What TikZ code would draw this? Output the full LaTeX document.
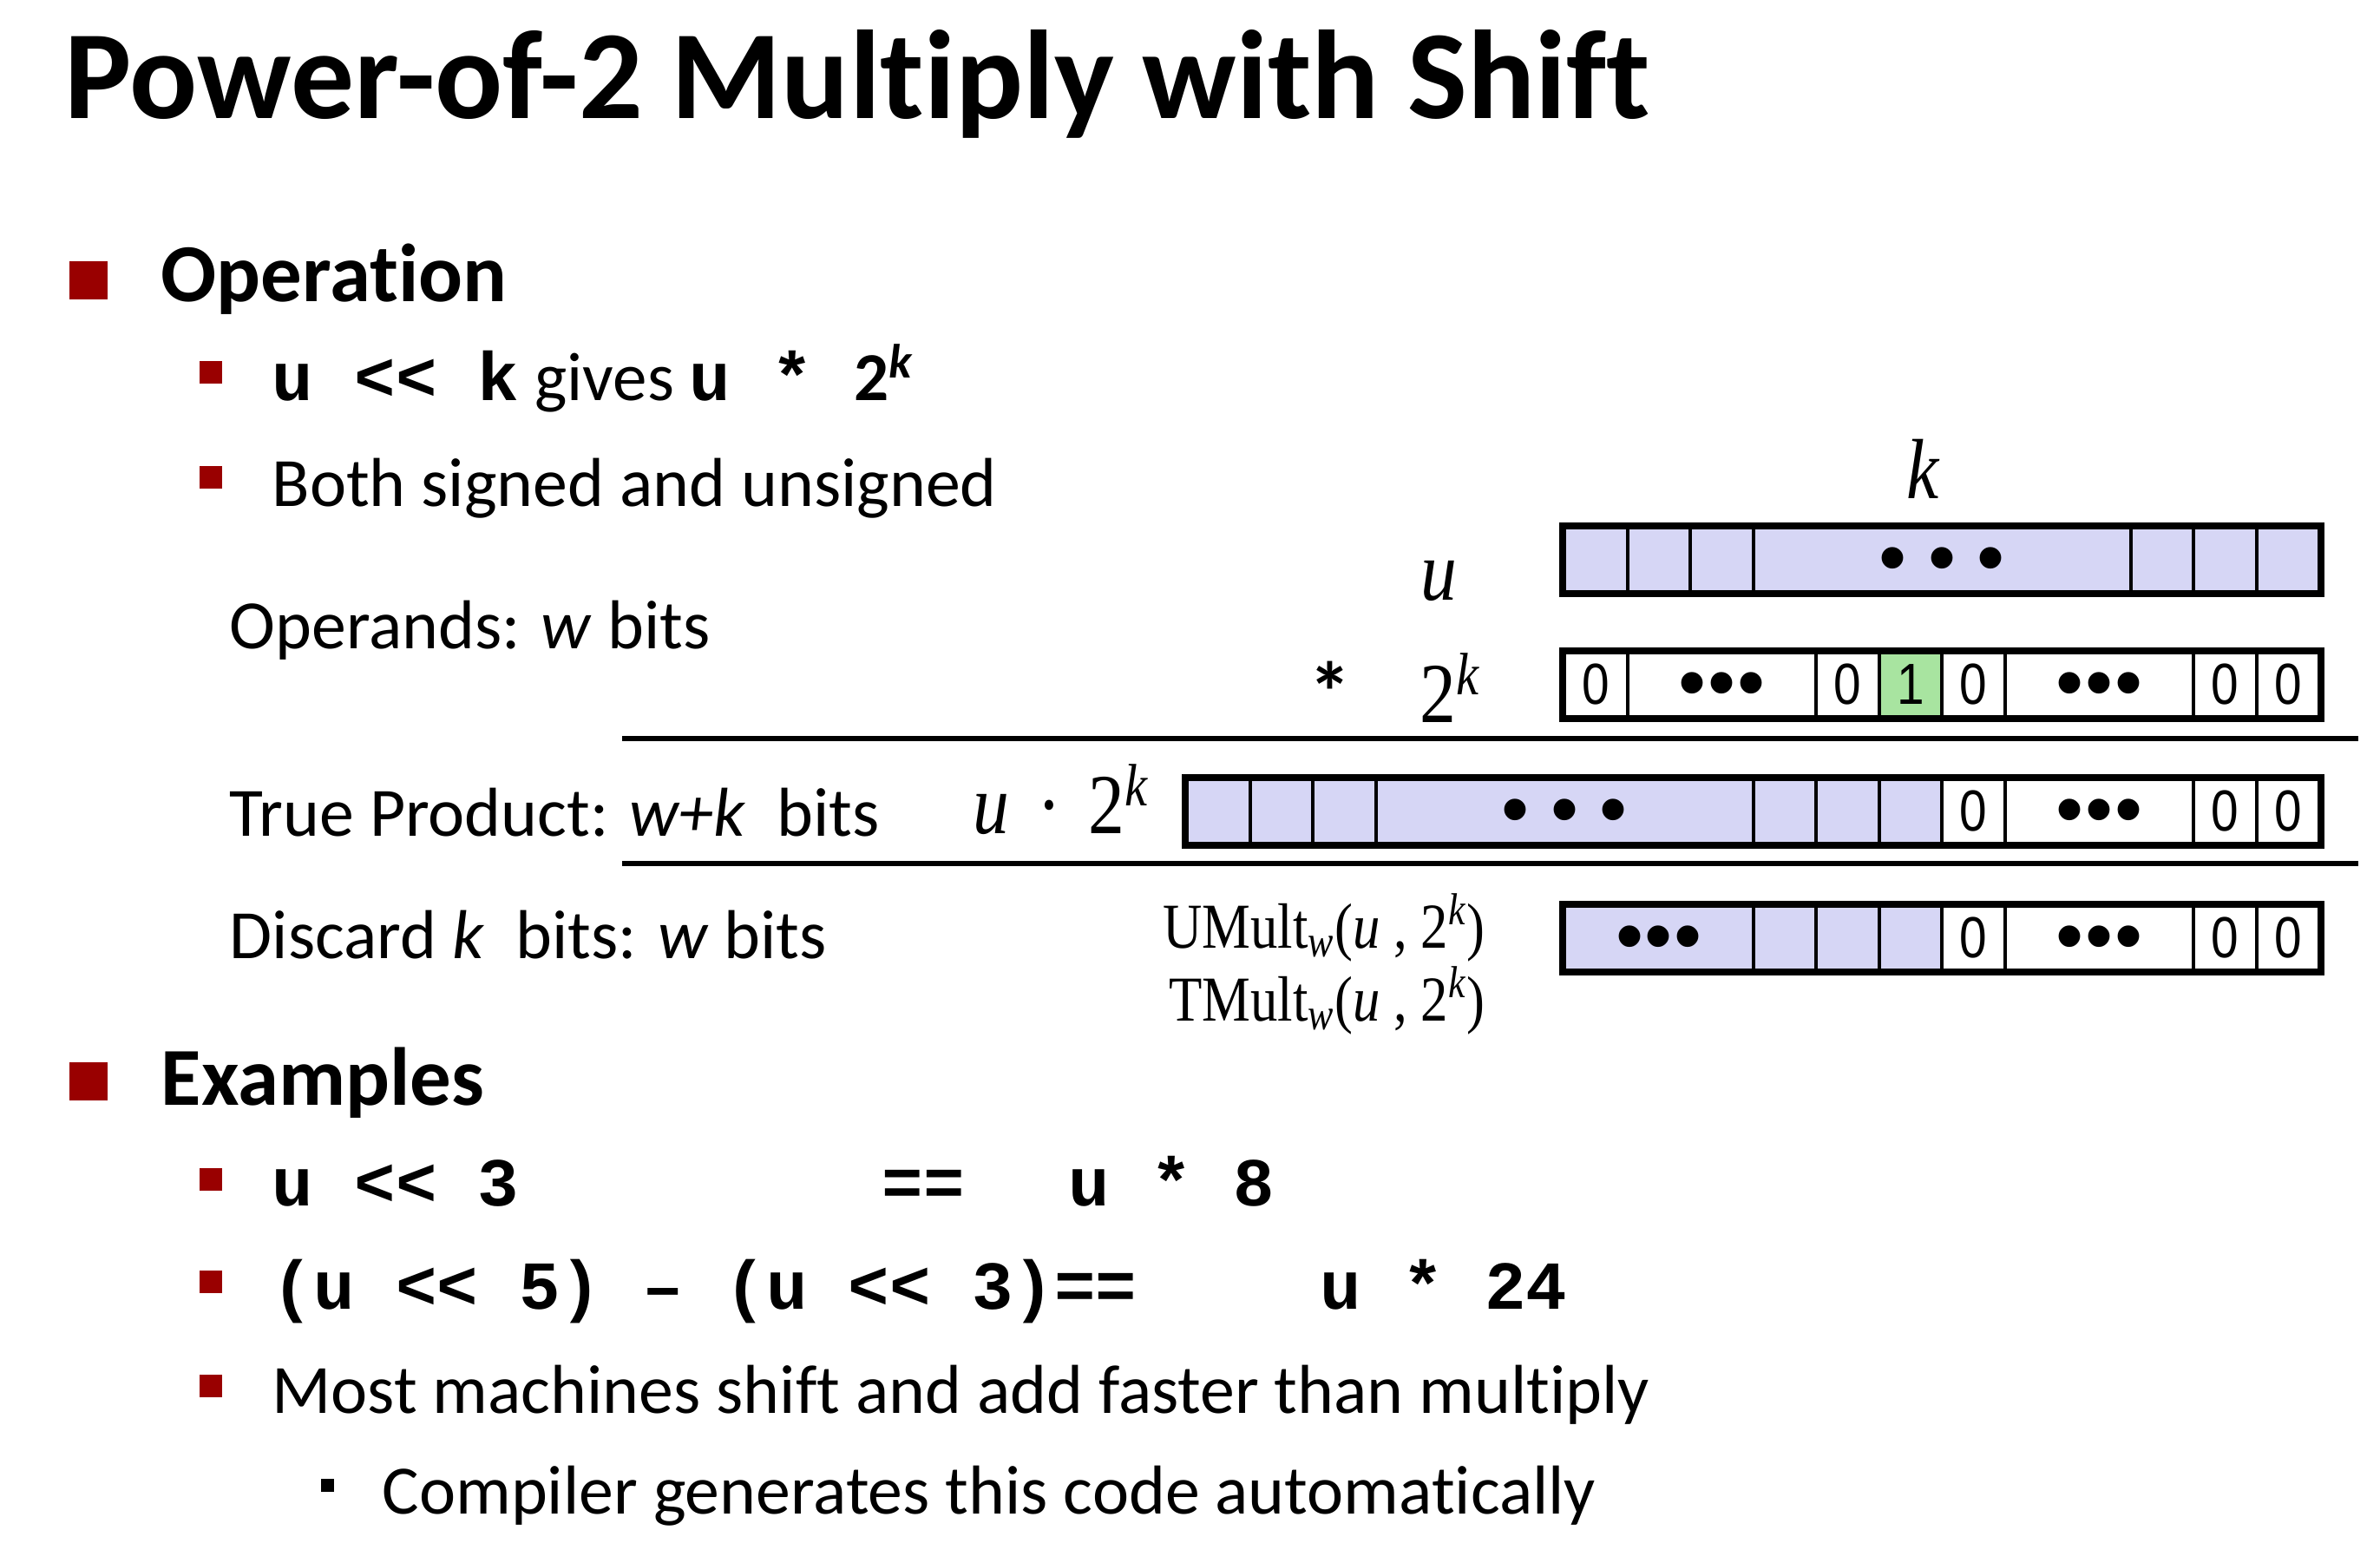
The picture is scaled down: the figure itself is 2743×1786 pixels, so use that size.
\documentclass[tikz,border=0pt]{standalone}
\usepackage{fontspec}
\setmainfont{Carlito}[Ligatures={TeX,NoCommon}]
\setmonofont{Liberation Mono}
\newfontfamily\tnr[FakeStretch=0.85]{Liberation Serif}
\newfontfamily\bitfont[FakeStretch=0.85]{Liberation Sans}
\newfontfamily\dotfont{Liberation Sans}
\definecolor{bulletred}{RGB}{153,0,0}
\definecolor{bitblue}{RGB}{214,214,245}
\definecolor{bitgreen}{RGB}{168,228,160}
\newcommand\tightdots{\raisebox{-2pt}[\height][\depth]{\fontsize{26}{30}\selectfont\dotfont •\kern0.5pt•\kern0.5pt•}}
\newcommand\widedots{\raisebox{-2pt}[\height][\depth]{\fontsize{26}{30}\selectfont\dotfont •\kern7pt•\kern7pt•}}

\tikzset{
	txt/.style={anchor=base west, inner sep=0pt, font=\fontsize{22.7}{27}\selectfont},
	head/.style={anchor=base west, inner sep=0pt, font=\fontsize{27}{32}\selectfont\bfseries},
	code/.style={anchor=base west, inner sep=0pt, font=\fontsize{22.5}{27}\selectfont\ttfamily\bfseries},
	bulleta/.style={fill=bulletred, inner sep=0pt, minimum size=4.4mm, anchor=south west},
	bulletb/.style={fill=bulletred, inner sep=0pt, minimum size=2.6mm, anchor=south west},
	bulletc/.style={fill=black, inner sep=0pt, minimum size=1.5mm, anchor=south west},
	cell/.style={draw, line width=1.2pt, inner sep=0pt, minimum height=7.4mm, anchor=west, font=\fontsize{19}{22}\selectfont\bitfont},
	frame/.style={draw, line width=2.2pt},
	rule/.style={line width=1.6pt},
	mathlbl/.style={inner sep=0pt, font=\fontsize{28}{32}\selectfont\tnr}
}

\begin{document}
\begin{tikzpicture}[x=0.1mm, y=-0.1mm]
	\useasboundingbox (0,0) rectangle (2743,1786);

	% title and bullet text
	\node[anchor=base west, inner sep=0pt, font=\fontsize{41.4}{48}\selectfont\bfseries] (title) at (74,137) {Power-of-2 Multiply with Shift};

	\node[bulleta] (b1) at (79,346) {};
	\node[head] (oper) at (185,348) {Operation};
	\node[bulletb] (b11) at (229,443) {};
	\node[code] (shift) at (313,462) {u << k\rmfamily\mdseries{} gives \ttfamily\bfseries u * \rmfamily 2\textsuperscript{\itshape k}};
	\node[bulletb] (b12) at (229,564) {};
	\node[txt] (both) at (313,584) {Both signed and unsigned};

	\node[txt] (operands) at (264,747) {Operands: \textit{w} bits};
	\node[txt] (trueprod) at (264,963) {True Product: \textit{w+k}\ \ bits};
	\node[txt] (discard) at (264,1104) {Discard \textit{k}\ \ bits: \textit{w} bits};

	\node[bulleta] (b2) at (79,1269) {};
	\node[head] (examples) at (185,1273) {Examples};
	\node[bulletb] (b21) at (229,1373) {};
	\node[code] (ex1) at (313,1389) {u << 3};
	\node[code] (ex1eq) at (1016,1389) {==};
	\node[code] (ex1r) at (1231,1389) {u * 8};
	\node[bulletb] (b22) at (229,1491) {};
	\node[code] (ex2) at (313,1508) {(u << 5) – (u << 3)==};
	\node[code] (ex2r) at (1521,1508) {u * 24};
	\node[bulletb] (b23) at (229,1611) {};
	\node[txt] (most) at (313,1628) {Most machines shift and add faster than multiply};
	\node[bulletc] (b231) at (369,1720) {};
	\node[txt] (compiler) at (440,1744) {Compiler generates this code automatically};

	% operand labels
	\node[mathlbl, anchor=base] (klbl) at (2216,575) {\itshape k};
	\node[mathlbl, anchor=base] (ulbl) at (1658,691) {\itshape u};
	\node[anchor=base, inner sep=0pt, font=\fontsize{28}{32}\selectfont\bfseries] (times) at (1533,832) {*};
	\node[mathlbl, anchor=base west] (twok) at (1636,832) {2\textsuperscript{\itshape k}};
	\node[mathlbl, anchor=base west] (prodlbl) at (1121,960) {\itshape u\upshape\kern9pt·\kern9pt2\textsuperscript{\itshape k}};
	\node[mathlbl, anchor=base east, font=\fontsize{21}{24}\selectfont\tnr] (umult) at (1712,1092) {UMult\textsubscript{\itshape w}(\textit{u} , 2\textsuperscript{\itshape k})};
	\node[mathlbl, anchor=base east, font=\fontsize{21}{24}\selectfont\tnr] (tmult) at (1712,1176) {TMult\textsubscript{\itshape w}(\textit{u} , 2\textsuperscript{\itshape k})};

	% u
	\foreach \s/\w/\t [count=\i] in {0/1/{},1/1/{},2/1/{},3/6/\widedots,9/1/{},10/1/{},11/1/{}}
		\node[cell, fill=bitblue, minimum width=\w*7.25mm] (u\i) at (1801+\s*72.5,645) {\t};
	\draw[frame] (u1.north west) rectangle (u7.south east);

	% 2^k
	\foreach \s/\w/\t/\f [count=\i] in {0/1/0/white,1/3/\tightdots/white,4/1/0/white,5/1/1/bitgreen,6/1/0/white,7/3/\tightdots/white,10/1/0/white,11/1/0/white}
		\node[cell, fill=\f, minimum width=\w*7.25mm] (p\i) at (1801+\s*72.5,789) {\t};
	\draw[frame] (p1.north west) rectangle (p8.south east);

	\draw[rule] (717,851) -- (2718,851);

	% u * 2^k
	\foreach \s/\w/\t/\f [count=\i] in {0/1/{}/bitblue,1/1/{}/bitblue,2/1/{}/bitblue,3/6/\widedots/bitblue,9/1/{}/bitblue,10/1/{}/bitblue,11/1/{}/bitblue,12/1/0/white,13/3/\tightdots/white,16/1/0/white,17/1/0/white}
		\node[cell, fill=\f, minimum width=\w*7.25mm] (t\i) at (1366+\s*72.5,935) {\t};
	\draw[frame] (t1.north west) rectangle (t11.south east);

	\draw[rule] (717,995) -- (2718,995);

	% w bits kept
	\foreach \s/\w/\t/\f [count=\i] in {0/3/\tightdots/bitblue,3/1/{}/bitblue,4/1/{}/bitblue,5/1/{}/bitblue,6/1/0/white,7/3/\tightdots/white,10/1/0/white,11/1/0/white}
		\node[cell, fill=\f, minimum width=\w*7.25mm] (d\i) at (1801+\s*72.5,1081) {\t};
	\draw[frame] (d1.north west) rectangle (d8.south east);
\end{tikzpicture}
\end{document}
